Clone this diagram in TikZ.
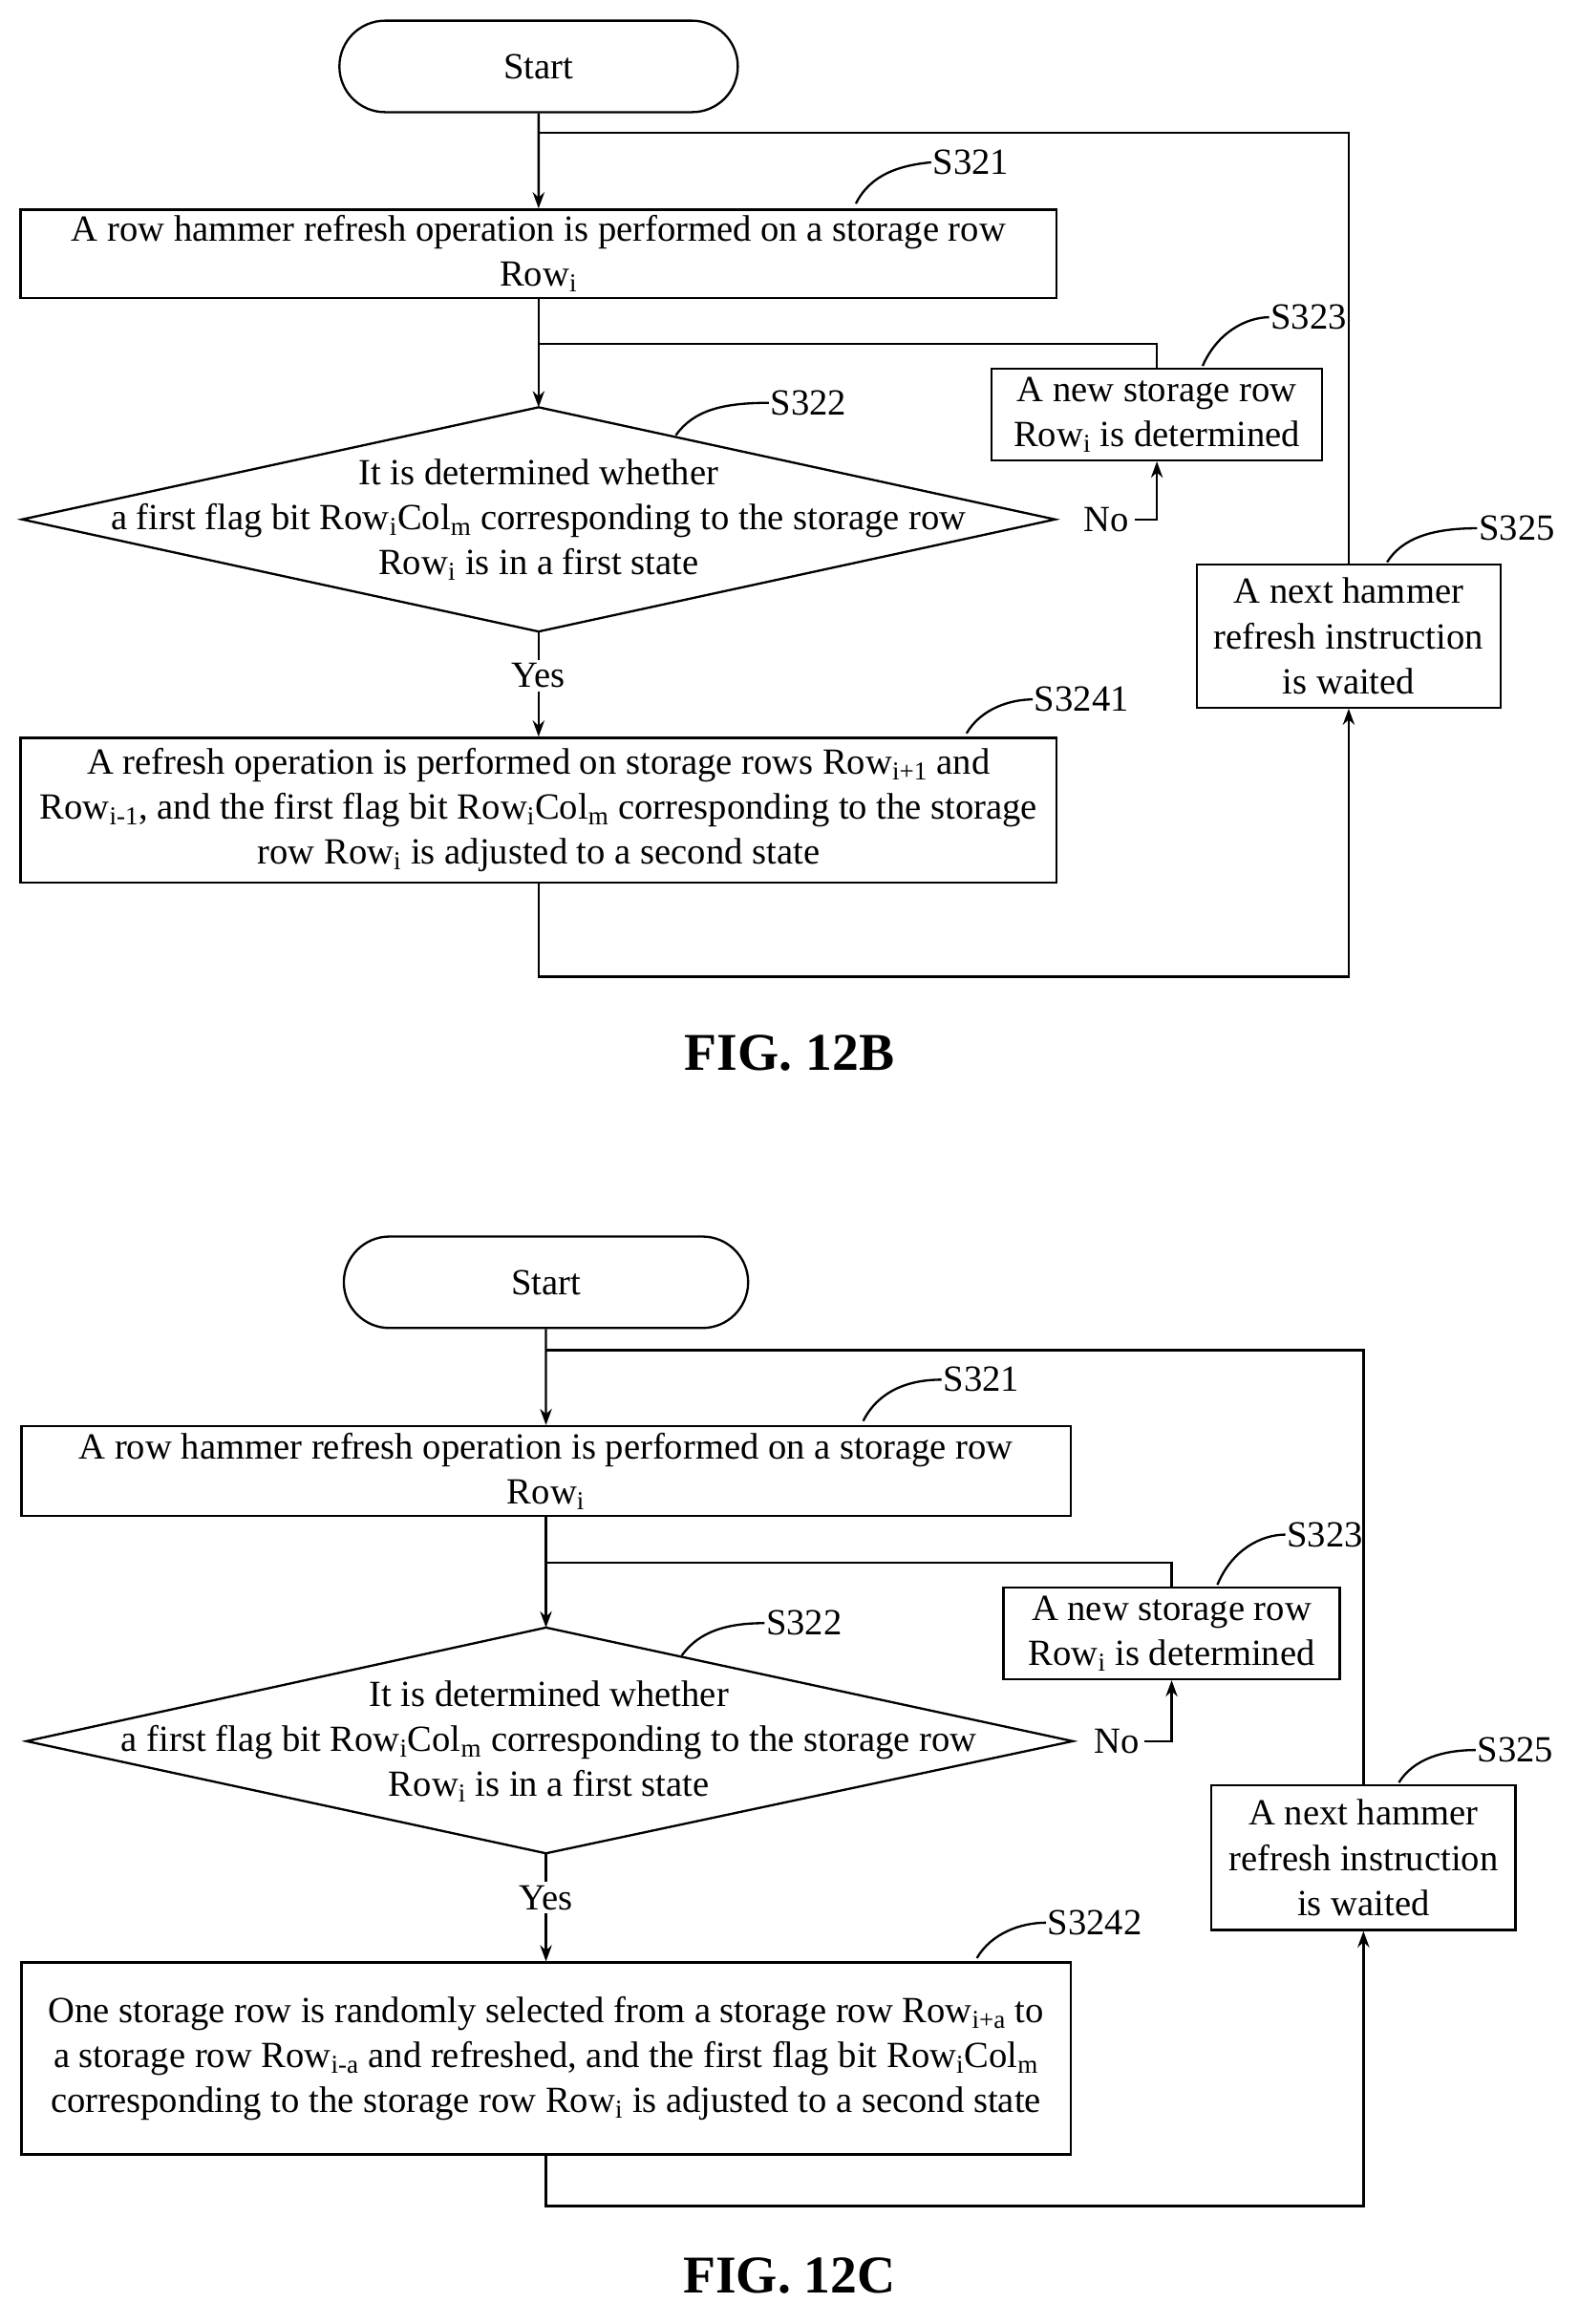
\documentclass[tikz,border=0pt]{standalone}
\usepackage{fontspec}
\setmainfont{Liberation Serif}
\usetikzlibrary{positioning,shapes.misc,arrows.meta}
\tikzset{
  box/.style={draw, line width=1.5pt, inner sep=0pt, align=center},
  term/.style={draw, line width=1.5pt, rounded rectangle, inner sep=0pt},
  line/.style={line width=1.5pt},
  arr/.style={line width=1.5pt, -{Stealth[length=11pt,width=8pt]}},
  tag/.style={inner sep=1pt},
}
\newcommand{\sub}[1]{\textsubscript{#1}}
\begin{document}
\begin{tikzpicture}[x=1pt,y=-1pt,font=\fontsize{25}{30.5}\selectfont]
\useasboundingbox (0,0) rectangle (1070,1575);
% FIG. 12B
\node[term, minimum width=270, minimum height=62] (b-start) at (365,45) {Start};
\node[box, minimum width=702, minimum height=60] (b-s321) at (365,172)
  {A row hammer refresh operation is performed on a storage row\\Row\sub{i}};
\coordinate (b-dt) at (365,276); \coordinate (b-db) at (365,428);
\coordinate (b-dl) at (15,352); \coordinate (b-dr) at (715,352);
\draw[line] (b-dt) -- (b-dr) -- (b-db) -- (b-dl) -- cycle;
\node[align=center] (b-s322) at (365,352) {It is determined whether\\a first flag bit Row\sub{i}Col\sub{m} corresponding to the storage row\\Row\sub{i} is in a first state};
\node[box, minimum width=224, minimum height=62] (b-s323) at (784,281) {A new storage row\\Row\sub{i} is determined};
\node[box, minimum width=206, minimum height=97] (b-s325) at (914,431) {A next hammer\\refresh instruction\\is waited};
\node[box, minimum width=702, minimum height=98] (b-s3241) at (365,549)
  {A refresh operation is performed on storage rows Row\sub{i+1} and\\Row\sub{i-1}, and the first flag bit Row\sub{i}Col\sub{m} corresponding to the storage\\row Row\sub{i} is adjusted to a second state};
\node (b-no) at (750,352) {No};
\node[fill=white, inner sep=2pt] (b-yes) at (365,458) {Yes};
\node[font=\fontsize{36}{40}\selectfont\bfseries] (b-fig) at (535,714) {FIG. 12B};
% connectors
\draw[arr] (b-start) -- (b-s321);
\draw[arr] (b-s321) -- (b-dt);
\draw[arr] (b-db) -- (b-yes) -- (b-s3241);
\draw[arr] (b-no.east) -| (b-s323.south);
\draw[line] (b-s323.north) |- (365,233);
\draw[arr] (b-s3241.south) |- (914,662) -- (b-s325.south);
\draw[line] (b-s325.north) |- (365,90);
% step tags
\node[tag] (b-t321) at (658,110) {S321};
\draw[line] (580,138) .. controls (590,118) and (610,112) .. (b-t321.west);
\node[tag] (b-t322) at (548,273) {S322};
\draw[line] (458,295) .. controls (470,278) and (490,273) .. (b-t322.west);
\node[tag] (b-t323) at (887,215) {S323};
\draw[line] (815,248) .. controls (825,225) and (845,215) .. (b-t323.west);
\node[tag] (b-t325) at (1028,358) {S325};
\draw[line] (940,381) .. controls (950,365) and (970,358) .. (b-t325.west);
\node[tag] (b-t3241) at (733,474) {S3241};
\draw[line] (655,497) .. controls (665,480) and (685,474) .. (b-t3241.west);
% FIG. 12C
\node[term, minimum width=274, minimum height=62] (c-start) at (370,869) {Start};
\node[box, minimum width=711, minimum height=61] (c-s321) at (370,997)
  {A row hammer refresh operation is performed on a storage row\\Row\sub{i}};
\coordinate (c-dt) at (370,1103); \coordinate (c-db) at (370,1256);
\coordinate (c-dl) at (18,1180); \coordinate (c-dr) at (727,1180);
\draw[line] (c-dt) -- (c-dr) -- (c-db) -- (c-dl) -- cycle;
\node[align=center] (c-s322) at (372,1180) {It is determined whether\\a first flag bit Row\sub{i}Col\sub{m} corresponding to the storage row\\Row\sub{i} is in a first state};
\node[box, minimum width=228, minimum height=62] (c-s323) at (794,1107) {A new storage row\\Row\sub{i} is determined};
\node[box, minimum width=206, minimum height=98] (c-s325) at (924,1259) {A next hammer\\refresh instruction\\is waited};
\node[box, minimum width=711, minimum height=130] (c-s3242) at (370,1395)
  {One storage row is randomly selected from a storage row Row\sub{i+a} to\\a storage row Row\sub{i-a} and refreshed, and the first flag bit Row\sub{i}Col\sub{m}\\corresponding to the storage row Row\sub{i} is adjusted to a second state};
\node (c-no) at (757,1180) {No};
\node[fill=white, inner sep=2pt] (c-yes) at (370,1286) {Yes};
\node[font=\fontsize{36}{40}\selectfont\bfseries] (c-fig) at (535,1542) {FIG. 12C};
% connectors
\draw[arr] (c-start) -- (c-s321);
\draw[arr] (c-s321) -- (c-dt);
\draw[arr] (c-db) -- (c-yes) -- (c-s3242);
\draw[arr] (c-no.east) -| (c-s323.south);
\draw[line] (c-s323.north) |- (370,1059);
\draw[arr] (c-s3242.south) |- (924,1495) -- (c-s325.south);
\draw[line] (c-s325.north) |- (370,915);
% step tags
\node[tag] (c-t321) at (665,935) {S321};
\draw[line] (585,963) .. controls (595,943) and (615,935) .. (c-t321.west);
\node[tag] (c-t322) at (545,1100) {S322};
\draw[line] (462,1122) .. controls (474,1105) and (494,1100) .. (c-t322.west);
\node[tag] (c-t323) at (898,1040) {S323};
\draw[line] (825,1074) .. controls (835,1050) and (855,1040) .. (c-t323.west);
\node[tag] (c-t325) at (1027,1186) {S325};
\draw[line] (948,1208) .. controls (958,1192) and (978,1186) .. (c-t325.west);
\node[tag] (c-t3242) at (742,1303) {S3242};
\draw[line] (662,1327) .. controls (672,1310) and (692,1303) .. (c-t3242.west);
\end{tikzpicture}
\end{document}
